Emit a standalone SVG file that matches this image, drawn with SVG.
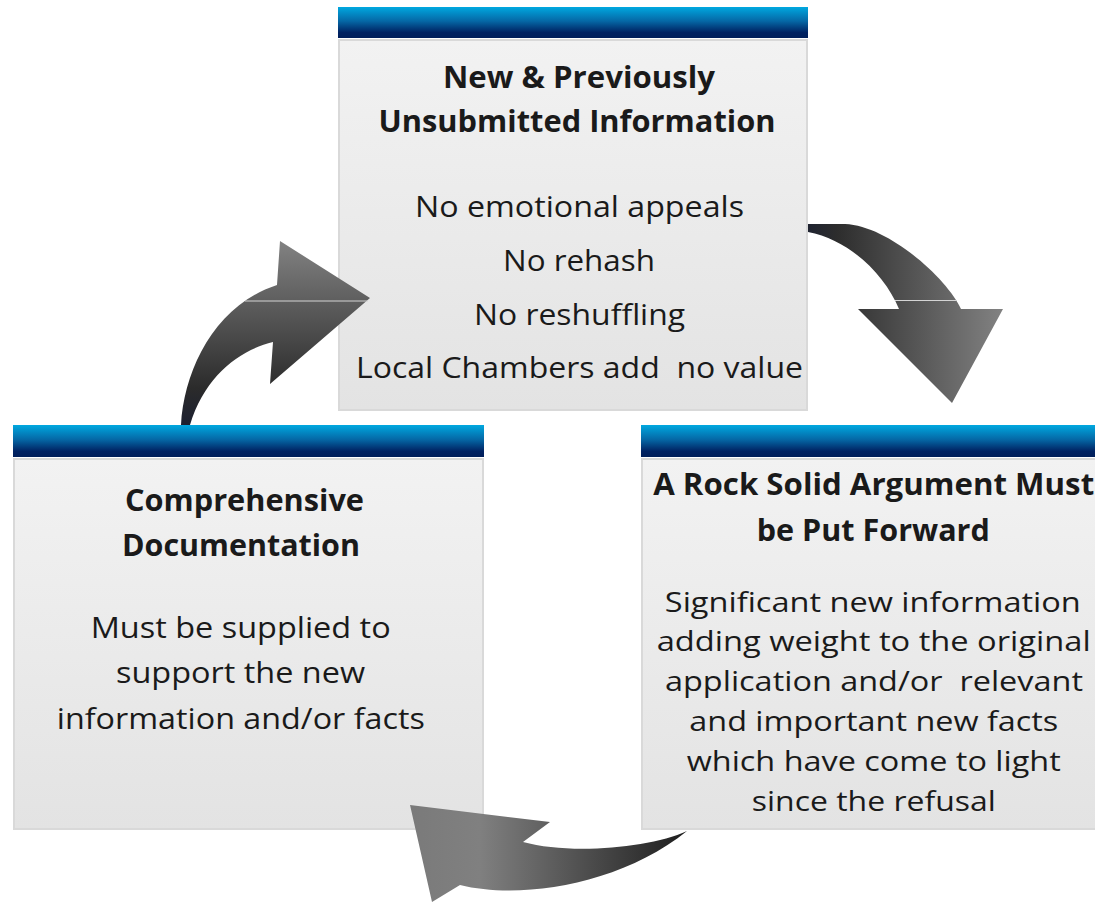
<svg xmlns="http://www.w3.org/2000/svg" width="1095" height="902" viewBox="0 0 1095 902">
<style>
.hd{fill:url(#hdr)}
.bd{fill:url(#bod);stroke:#d9d9d9;stroke-width:2}
.t{font-family:"Open Sans","Liberation Sans",sans-serif;fill:#1a1a1a;text-anchor:middle}
.b{font-weight:bold;font-size:30px}
.r{font-size:30px}
.s{font-size:28px}
.seam{stroke:#d4d4d4;stroke-width:1.2}
</style>
<defs>
<linearGradient id="hdr" x1="0" y1="0" x2="0" y2="1">
<stop offset="0" stop-color="#00a8e0"/>
<stop offset="0.45" stop-color="#0568a6"/>
<stop offset="0.82" stop-color="#002262"/>
<stop offset="1" stop-color="#001e5a"/>
</linearGradient>
<linearGradient id="bod" x1="0" y1="0" x2="0" y2="1">
<stop offset="0" stop-color="#f2f2f2"/>
<stop offset="1" stop-color="#e3e3e3"/>
</linearGradient>
<linearGradient id="gR" gradientUnits="userSpaceOnUse" x1="808" y1="0" x2="1003" y2="0">
<stop offset="0" stop-color="#1f2330"/>
<stop offset="0.15" stop-color="#2d2d2d"/>
<stop offset="1" stop-color="#828282"/>
</linearGradient>
<linearGradient id="gL" gradientUnits="userSpaceOnUse" x1="0" y1="425" x2="0" y2="241">
<stop offset="0" stop-color="#1c2030"/>
<stop offset="0.2" stop-color="#2b2b2b"/>
<stop offset="1" stop-color="#828282"/>
</linearGradient>
<linearGradient id="gB" gradientUnits="userSpaceOnUse" x1="687" y1="0" x2="410" y2="0">
<stop offset="0" stop-color="#1e1e1e"/>
<stop offset="0.75" stop-color="#808080"/>
<stop offset="1" stop-color="#7a7a7a"/>
</linearGradient>
</defs>

<g id="node-top">
<rect class="hd" x="338" y="7" width="470" height="31"/>
<rect class="bd" x="339" y="40" width="468" height="370"/>
<text class="t b" x="579" y="88" textLength="272" lengthAdjust="spacingAndGlyphs">New &amp; Previously</text>
<text class="t b" x="577" y="132" textLength="397" lengthAdjust="spacingAndGlyphs">Unsubmitted Information</text>
<text class="t r" x="579.5" y="217" textLength="329" lengthAdjust="spacingAndGlyphs">No emotional appeals</text>
<text class="t r" x="579" y="271" textLength="152" lengthAdjust="spacingAndGlyphs">No rehash</text>
<text class="t r" x="579.5" y="324.5" textLength="211" lengthAdjust="spacingAndGlyphs">No reshuffling</text>
<text class="t r" x="579.5" y="377.5" textLength="447" lengthAdjust="spacingAndGlyphs" xml:space="preserve">Local Chambers add  no value</text>
</g>

<g id="node-left">
<rect class="hd" x="13" y="425" width="471" height="32"/>
<rect class="bd" x="14" y="459" width="469" height="370"/>
<text class="t b" x="244.5" y="511" textLength="239" lengthAdjust="spacingAndGlyphs">Comprehensive</text>
<text class="t b" x="241" y="556" textLength="238" lengthAdjust="spacingAndGlyphs">Documentation</text>
<text class="t r" x="240.7" y="638.3" textLength="300" lengthAdjust="spacingAndGlyphs">Must be supplied to</text>
<text class="t r" x="240.5" y="683.3" textLength="249" lengthAdjust="spacingAndGlyphs">support the new</text>
<text class="t r" x="240.8" y="729.3" textLength="368" lengthAdjust="spacingAndGlyphs">information and/or facts</text>
</g>

<g id="node-right">
<rect class="hd" x="641" y="425" width="460" height="32"/>
<rect class="bd" x="642" y="459" width="460" height="370"/>
<text class="t b" x="873.7" y="495" textLength="441" lengthAdjust="spacingAndGlyphs">A Rock Solid Argument Must</text>
<text class="t b" x="873.3" y="540.5" textLength="233" lengthAdjust="spacingAndGlyphs">be Put Forward</text>
<text class="t s" x="872.8" y="611.7" textLength="416" lengthAdjust="spacingAndGlyphs">Significant new information</text>
<text class="t s" x="873.7" y="650.7" textLength="434" lengthAdjust="spacingAndGlyphs">adding weight to the original</text>
<text class="t s" x="874" y="690.7" textLength="418" lengthAdjust="spacingAndGlyphs" xml:space="preserve">application and/or  relevant</text>
<text class="t s" x="873.8" y="730.7" textLength="369" lengthAdjust="spacingAndGlyphs">and important new facts</text>
<text class="t s" x="873.7" y="771.2" textLength="374" lengthAdjust="spacingAndGlyphs">which have come to light</text>
<text class="t s" x="873.8" y="811.2" textLength="244" lengthAdjust="spacingAndGlyphs">since the refusal</text>
</g>

<g id="connectors">
<path id="arrow-top-right" fill="url(#gR)" d="M808,224 L845,224 C890,226 948,280 961,309 L1003,309 L952,403 L858,309 L899,309 C885,275 850,240 808,232 Z"/>
<line class="seam" x1="895" y1="300.5" x2="957" y2="300.5"/>
<path id="arrow-left-top" fill="url(#gL)" d="M181,425 C184,370 215,305 277,285 L280,241 L370,298 L270,384 L273,342 C240,350 205,375 190,425 Z"/>
<line class="seam" x1="245" y1="301" x2="368" y2="301"/>
<path id="arrow-bottom" fill="url(#gB)" d="M687,831 C650,848 570,855 523,842 L550,822 L410,805 L432,902 L460,885 C520,900 620,885 687,831 Z"/>
</g>
</svg>
